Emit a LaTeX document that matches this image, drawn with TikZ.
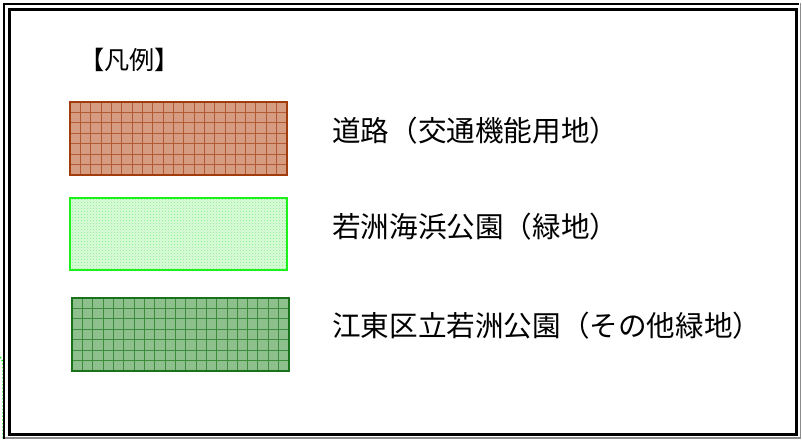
\documentclass[tikz,border=0pt]{standalone}
\usepackage{fontspec}
\newfontfamily\jp{Noto Sans CJK JP}
\definecolor{brownedge}{HTML}{A33C0C}
\definecolor{brownfill}{HTML}{D69C82}
\definecolor{browngrid}{HTML}{B25A34}
\definecolor{lgedge}{HTML}{1EF01E}
\definecolor{lgfill}{HTML}{D4FAD4}
\definecolor{lgdot}{HTML}{9AF09A}
\definecolor{dgedge}{HTML}{1A721A}
\definecolor{dgfill}{HTML}{8DC08D}
\definecolor{dggrid}{HTML}{3C8C3C}
\definecolor{shadowgray}{HTML}{8C8C8C}
\tikzset{
  label/.style={anchor=west, inner sep=0pt, font=\jp\fontsize{28.6}{32}\selectfont},
  title/.style={anchor=west, inner sep=0pt, font=\jp\fontsize{25.2}{29}\selectfont},
  swatch/.style={line width=1.5pt},
}
\begin{document}
\begin{tikzpicture}[x=1pt,y=-1pt]
\useasboundingbox (0,0) rectangle (802,439);
\fill[white] (0,0) rectangle (802,439);
% stray green dotted edge of another drawing
\draw[lgedge, dotted, line width=1.5pt] (0,357) -- (3,362) -- (3,439);
% frame
\draw[black, line width=2pt] (3,4) -- (799,4);
\draw[black, line width=2pt] (4,3) -- (4,439);
\draw[shadowgray, line width=1.5pt] (800.5,3) -- (800.5,439);
\draw[shadowgray, line width=1.5pt] (5,437.8) -- (801,437.8);
\draw[black, line width=3pt] (9.5,9.5) rectangle (796.5,434.5);
% title
\node[title] (ttl) at (79,60) {【凡例】};
% brown swatch
\fill[brownfill] (70,102) rectangle (287,175);
\foreach \i in {1,...,20} {\draw[browngrid, line width=0.9pt] ({70+\i*10.33},102) -- ({70+\i*10.33},175);}
\foreach \j in {1,...,6} {\draw[browngrid, line width=0.9pt] (70,{102+\j*10.43}) -- (287,{102+\j*10.43});}
\draw[swatch, brownedge] (70,102) rectangle (287,175) node[pos=0.5] (sw1) {};
% light green swatch
\fill[lgfill] (70,198) rectangle (287,270);
\foreach \i in {0,...,71} {\draw[lgdot, line width=0.7pt, dash pattern=on 1.2pt off 1.8pt] ({72+\i*3},199) -- ({72+\i*3},269);}
\draw[swatch, lgedge] (70,198) rectangle (287,270) node[pos=0.5] (sw2) {};
% dark green swatch
\fill[dgfill] (72,298) rectangle (289,371);
\foreach \i in {1,...,20} {\draw[dggrid, line width=0.9pt] ({72+\i*10.33},298) -- ({72+\i*10.33},371);}
\foreach \j in {1,...,6} {\draw[dggrid, line width=0.9pt] (72,{298+\j*10.43}) -- (289,{298+\j*10.43});}
\draw[swatch, dgedge] (72,298) rectangle (289,371) node[pos=0.5] (sw3) {};
% labels
\node[label] (l1) at (332,131) {道路（交通機能用地）};
\node[label] (l2) at (332,227) {若洲海浜公園（緑地）};
\node[label] (l3) at (332,326) {江東区立若洲公園（その他緑地）};
\end{tikzpicture}
\end{document}
